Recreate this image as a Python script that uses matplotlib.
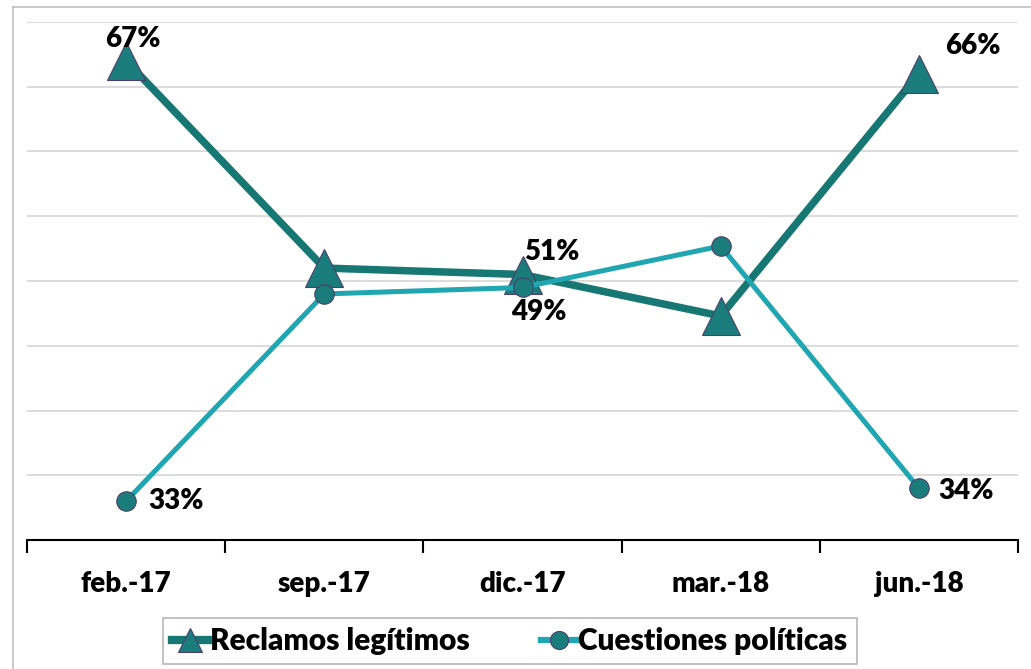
import matplotlib
matplotlib.use("Agg")
import matplotlib.pyplot as plt
from matplotlib.lines import Line2D

plt.rcParams['font.family'] = ['Lato', 'DejaVu Sans']

# Datos
categorias = ["feb.-17", "sep.-17", "dic.-17", "mar.-18", "jun.-18"]
reclamos = [67, 51, 50.5, 47.3, 66]
cuestiones = [33, 49, 49.5, 52.7, 34]
etiquetas_reclamos = ["67%", "", "51%", "", "66%"]
etiquetas_cuestiones = ["33%", "", "49%", "", "34%"]

COLOR_RECLAMOS = "#177773"
COLOR_CUESTIONES = "#1fa6b0"
COLOR_MARCADOR = "#1b7d7b"
COLOR_BORDE = "#4a3f6b"
FS = 20
PESO = "heavy"

fig = plt.figure(figsize=(10.31, 6.69), dpi=100)
ax = fig.add_axes([27 / 1031, 1 - 540 / 669, (1018 - 27) / 1031, (540 - 22) / 669])

x = list(range(len(categorias)))

# Líneas de cuadrícula
for yv in range(35, 71, 5):
    ax.axhline(yv, color="#d9d9d9", lw=1.3, zorder=0)

ax.plot(x, cuestiones, color=COLOR_CUESTIONES, lw=3.6, marker="o", ms=14,
        mfc=COLOR_MARCADOR, mec=COLOR_BORDE, mew=0.8, zorder=3)
ax.plot(x, reclamos, color=COLOR_RECLAMOS, lw=5.4, marker="^", ms=27,
        mfc=COLOR_MARCADOR, mec=COLOR_BORDE, mew=0.8, zorder=2)

# Etiquetas de datos
off_reclamos = [(5, 16, "center"), None, (1, 16, "left"), None, (19, 20, "left")]
off_cuestiones = [(16, 0, "left"), None, (-8, -18, "left"), None, (14, -2, "left")]
for i in x:
    if etiquetas_reclamos[i]:
        dx, dy, ha = off_reclamos[i]
        ax.annotate(etiquetas_reclamos[i], (i, reclamos[i]), xytext=(dx, dy),
                    textcoords="offset points", ha=ha, va="center",
                    fontsize=FS, fontweight=PESO, zorder=5)
    if etiquetas_cuestiones[i]:
        dx, dy, ha = off_cuestiones[i]
        ax.annotate(etiquetas_cuestiones[i], (i, cuestiones[i]), xytext=(dx, dy),
                    textcoords="offset points", ha=ha, va="center",
                    fontsize=FS, fontweight=PESO, zorder=5)

ax.set_xlim(-0.5, len(categorias) - 0.5)
ax.set_ylim(30, 70)
ax.set_yticks([])
ax.set_xticks([i - 0.5 for i in range(len(categorias) + 1)])
ax.set_xticklabels([])
ax.set_xticks(x, minor=True)
ax.set_xticklabels(categorias, minor=True, fontsize=FS, fontweight=PESO)
ax.tick_params(axis="x", which="major", length=9, width=1.5, color="black")
ax.tick_params(axis="x", which="minor", length=0, pad=22)
for s in ["top", "right", "left"]:
    ax.spines[s].set_visible(False)
ax.spines["bottom"].set_linewidth(1.5)

# Marco exterior
fig.add_artist(Line2D([13 / 1031, 13 / 1031], [0, 1 - 7 / 669], color="#c0c0c0", lw=1.2))
fig.add_artist(Line2D([13 / 1031, 1], [1 - 7 / 669, 1 - 7 / 669], color="#c0c0c0", lw=1.2))

handles = [
    Line2D([], [], color=COLOR_RECLAMOS, lw=6, marker="^", ms=17,
           mfc=COLOR_MARCADOR, mec=COLOR_BORDE, mew=0.8),
    Line2D([], [], color=COLOR_CUESTIONES, lw=4.5, marker="o", ms=13,
           mfc=COLOR_MARCADOR, mec=COLOR_BORDE, mew=0.8),
]
leg = fig.legend(handles, ["Reclamos legítimos", "Cuestiones políticas"],
                 loc="center", bbox_to_anchor=(510 / 1031, 1 - 641 / 669), ncol=2,
                 prop={"weight": PESO, "size": 21.5}, frameon=True,
                 fancybox=False, edgecolor="#a6a6a6", handlelength=1.2,
                 handletextpad=0.05, columnspacing=2.4, borderpad=0.3,
                 borderaxespad=0)
leg.get_frame().set_linewidth(1.2)

fig.savefig("out.png", dpi=100)
